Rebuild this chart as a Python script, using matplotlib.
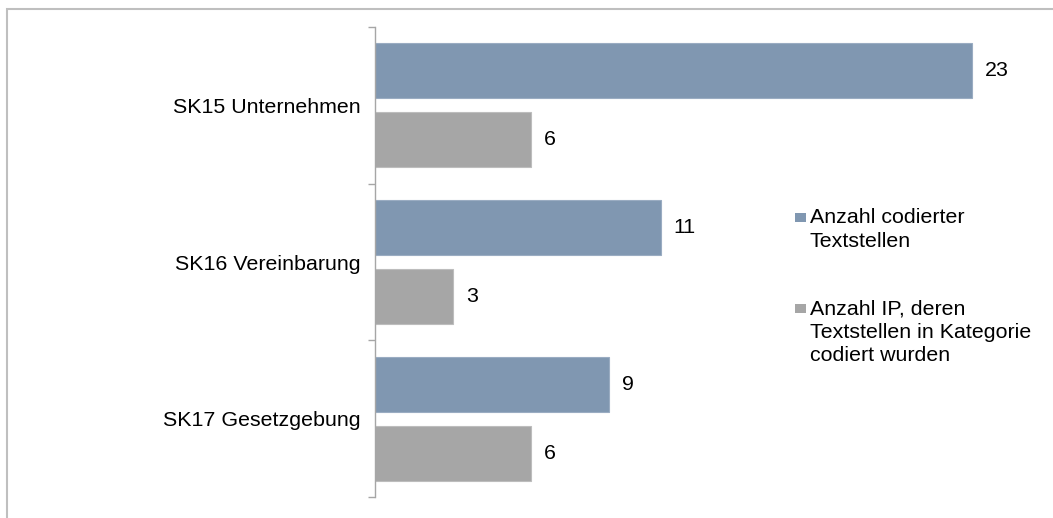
import matplotlib
matplotlib.use("Agg")
import matplotlib.pyplot as plt
from matplotlib.patches import Rectangle
import numpy as np

plt.rcParams['font.family'] = ['Liberation Sans', 'DejaVu Sans']

categories = ["SK15 Unternehmen", "SK16 Vereinbarung", "SK17 Gesetzgebung"]
codierte_textstellen = [23, 11, 9]
anzahl_ip = [6, 3, 6]
series_labels = ["Anzahl codierter\nTextstellen",
                 "Anzahl IP, deren\nTextstellen in Kategorie\ncodiert wurden"]

blue = "#8097B1"
gray = "#A6A6A6"
axis_gray = "#A6A6A6"
fs = 15.4

W, H = 1053, 518
fig = plt.figure(figsize=(W / 100, H / 100), dpi=100)
ax = fig.add_axes([375 / W, 1 - 497 / H, (1024 - 375) / W, (497 - 27) / H])

y = np.arange(len(categories)) + 0.5
bh = 0.35
off = 0.22
b1 = ax.barh(y - off, codierte_textstellen, height=bh, color=blue,
             edgecolor="#9AACC2", linewidth=0.8)
b2 = ax.barh(y + off, anzahl_ip, height=bh, color=gray,
             edgecolor="#BDBDBD", linewidth=0.8)

for bars, vals in ((b1, codierte_textstellen), (b2, anzahl_ip)):
    for rect, v in zip(bars, vals):
        ax.annotate(str(v), (v, rect.get_y() + rect.get_height() / 2),
                    xytext=(9.3, 0), textcoords="offset points",
                    ha="left", va="center", fontsize=fs, color="#000000")

ax.set_xlim(0, 25)
ax.set_ylim(len(categories), 0)

# category boundaries carry the tick marks, labels sit at the centres
ax.set_yticks(np.arange(len(categories) + 1))
ax.set_yticklabels([])
ax.set_yticks(y, minor=True)
ax.set_yticklabels(categories, minor=True, fontsize=fs)
ax.tick_params(axis="y", which="major", length=5, color=axis_gray, width=1)
ax.tick_params(axis="y", which="minor", length=0, pad=10)
ax.set_xticks([])

for s in ("top", "right", "bottom"):
    ax.spines[s].set_visible(False)
ax.spines["left"].set_color(axis_gray)
ax.spines["left"].set_linewidth(1)

# legend: square marker beside the first line of each wrapped label
legend_baselines = [224, 315]
for label, color, base in zip(series_labels, (blue, gray), legend_baselines):
    fig.add_artist(Rectangle((795 / W, 1 - (base - 2) / H), 11 / W, 9 / H,
                             transform=fig.transFigure, facecolor=color,
                             edgecolor="none"))
    fig.text(810 / W, 1 - (base - 15.8) / H, label, ha="left", va="top",
             fontsize=fs, color="#000000", linespacing=1.3)

# outer chart frame
fig.add_artist(Rectangle((7 / W, -0.1), 1.2, 1.1 - 9 / H, transform=fig.transFigure,
                         fill=False, edgecolor="#BFBFBF", linewidth=1.5))

fig.savefig("out.png", dpi=100)
